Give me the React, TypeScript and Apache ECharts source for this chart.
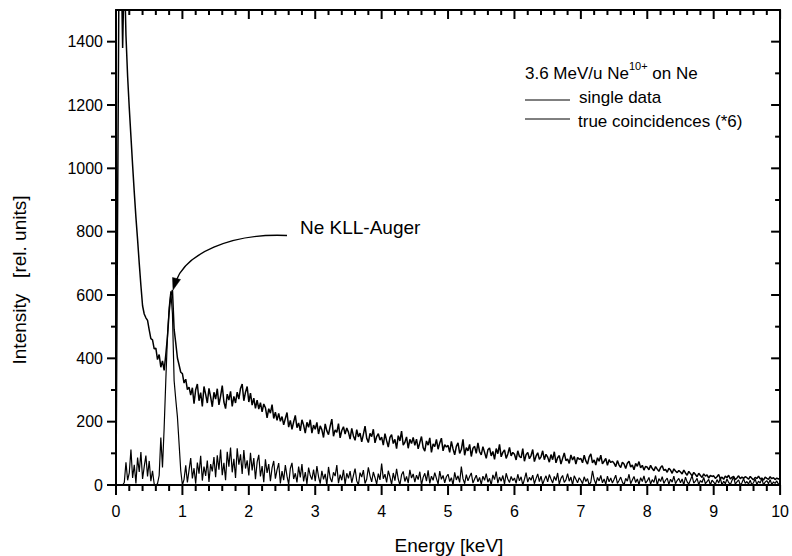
import React, { useEffect, useRef } from "react";
import * as echarts from "echarts";

// Channel spacing of the spectra (keV per point)
const ENERGY_STEP_KEV = 0.025;

// Single data, 0.000 ... 10.000 keV (rows of 0.5 keV)
const SINGLE_DATA = [
  0, 900, 1800, 1700, 1380, 1650, 1420, 1290, 1190, 1100, 1010, 925, 845, 775, 700, 630, 566, 540, 528, 520,
  490, 462, 458, 430, 432, 396, 412, 372, 392, 362, 412, 468, 545, 598, 616, 492, 448, 401, 379, 356,
  352, 322, 334, 301, 309, 284, 307, 257, 301, 319, 266, 292, 248, 311, 286, 259, 305, 278, 247, 293,
  271, 304, 253, 281, 314, 262, 241, 287, 268, 296, 248, 280, 259, 293, 271, 305, 319, 266, 293, 311,
  262, 290, 252, 274, 242, 268, 240, 260, 231, 256, 244, 212, 241, 227, 254, 210, 230, 204, 226, 201,
  216, 190, 210, 229, 183, 204, 176, 199, 220, 181, 196, 171, 206, 189, 164, 198, 182, 206, 164, 189,
  176, 198, 161, 187, 174, 150, 193, 171, 159, 186, 208, 154, 174, 166, 194, 149, 172, 184, 161, 180,
  167, 145, 179, 155, 141, 175, 152, 164, 136, 160, 186, 148, 134, 163, 153, 176, 133, 153, 162, 142,
  151, 126, 162, 140, 120, 150, 159, 131, 144, 115, 156, 139, 170, 126, 135, 152, 116, 144, 131, 150,
  125, 145, 114, 134, 153, 118, 107, 139, 126, 149, 103, 130, 121, 144, 113, 133, 148, 108, 127, 120,
  125, 103, 138, 114, 95, 122, 133, 100, 112, 144, 94, 118, 108, 128, 90, 116, 122, 100, 133, 105,
  95, 121, 103, 84, 111, 117, 92, 106, 81, 115, 99, 128, 89, 103, 111, 84, 98, 119, 92, 103,
  97, 79, 108, 90, 86, 115, 75, 96, 103, 83, 93, 112, 74, 91, 102, 81, 89, 108, 80, 97,
  88, 72, 96, 80, 105, 70, 86, 93, 66, 84, 101, 77, 82, 68, 95, 79, 90, 66, 87, 81,
  84, 70, 94, 76, 66, 89, 98, 70, 79, 63, 86, 75, 94, 67, 75, 84, 62, 80, 71, 75,
  69, 58, 77, 63, 55, 72, 66, 52, 69, 75, 57, 63, 48, 68, 59, 74, 54, 62, 47, 59,
  56, 48, 62, 52, 45, 58, 50, 43, 55, 61, 46, 49, 40, 53, 47, 37, 51, 44, 39, 46,
  41, 35, 47, 38, 31, 43, 36, 29, 40, 33, 26, 37, 30, 24, 35, 28, 32, 22, 30, 27,
  29, 21, 26, 33, 20, 25, 18, 28, 23, 31, 19, 24, 27, 17, 22, 29, 20, 25, 21, 26,
  23, 18, 27, 21, 16, 24, 20, 28, 19, 22, 15, 25, 21, 18, 26, 20, 23, 17, 22, 19,
  21,
];

// True coincidences (*6), 0.000 ... 10.000 keV (rows of 0.5 keV)
const TRUE_COINCIDENCES = [
  0, 0, 0, 0, 0, 8, 72, 15, 38, 112, 22, 64, 5, 87, 41, 104, 19, 58, 93, 27,
  76, 12, 45, 3, 0, 4, 30, 150, 55, 180, 330, 470, 560, 612, 540, 330, 270, 215, 130, 45,
  0, 18, 62, 8, 47, 85, 21, 53, 4, 71, 36, 92, 14, 58, 29, 77, 10, 66, 43, 88,
  25, 94, 48, 112, 31, 70, 15, 105, 58, 118, 40, 83, 22, 116, 64, 97, 35, 110, 52, 78,
  30, 102, 46, 85, 18, 72, 95, 27, 60, 9, 81, 38, 66, 12, 54, 76, 20, 48, 69, 5,
  44, 15, 63, 28, 2, 52, 70, 19, 37, 8, 58, 24, 66, 11, 41, 3, 55, 30, 17, 49,
  12, 60, 26, 4, 45, 18, 35, 0, 57, 22, 9, 40, 28, 63, 6, 33, 15, 48, 2, 37,
  21, 44, 7, 30, 52, 13, 0, 39, 25, 47, 5, 18, 56, 29, 10, 41, 23, 3, 36, 16,
  68, 20, 34, 8, 45, 26, 2, 38, 14, 51, 19, 0, 32, 43, 11, 27, 6, 48, 22, 35,
  9, 31, 17, 42, 0, 24, 37, 12, 46, 5, 28, 15, 39, 21, 3, 44, 18, 30, 7, 26,
  34, 11, 23, 0, 40, 16, 29, 8, 58, 20, 4, 33, 13, 27, 38, 6, 19, 31, 10, 24,
  2, 28, 15, 36, 9, 21, 0, 32, 17, 42, 6, 25, 12, 30, 3, 37, 19, 8, 27, 14,
  22, 5, 34, 13, 26, 0, 18, 39, 9, 24, 15, 31, 4, 20, 35, 11, 28, 2, 17, 29,
  10, 33, 19, 6, 27, 14, 38, 3, 21, 30, 8, 16, 36, 12, 25, 0, 29, 18, 7, 23,
  15, 4, 26, 11, 20, 0, 9, 45, 17, 3, 24, 13, 30, 7, 19, 2, 28, 10, 22, 6,
  18, 31, 5, 14, 25, 9, 0, 21, 12, 34, 4, 16, 27, 8, 19, 1, 23, 11, 29, 6,
  13, 24, 3, 17, 8, 30, 0, 20, 11, 26, 5, 15, 22, 2, 18, 9, 28, 4, 14, 21,
  7, 19, 0, 25, 10, 3, 16, 29, 6, 12, 21, 1, 14, 8, 24, 4, 11, 18, 0, 15,
  9, 2, 17, 6, 22, 0, 12, 4, 19, 8, 1, 14, 26, 3, 10, 16, 0, 7, 20, 5,
  11, 3, 15, 0, 8, 18, 2, 12, 6, 21, 0, 9, 14, 4, 17, 1, 10, 5, 13, 2,
  6,
];

const X_MIN = 0;
const X_MAX = 10;
const X_INTERVAL = 1;
const X_MAJOR_TICKS = [0, 1, 2, 3, 4, 5, 6, 7, 8, 9, 10];
const X_MINOR_SPLIT = 5;
const Y_MIN = 0;
const Y_MAX = 1500;
const Y_MAJOR_TICKS = [0, 200, 400, 600, 800, 1000, 1200, 1400];
const Y_MINOR_TICKS = [100, 300, 500, 700, 900, 1100, 1300];

const X_TITLE = "Energy [keV]";
const Y_TITLE = "Intensity   [rel. units]";
const LEGEND_TITLE_MAIN = "3.6 MeV/u Ne";
const LEGEND_TITLE_SUP = "10+";
const LEGEND_TITLE_END = " on Ne";
const SERIES_NAMES = ["single data", "true coincidences (*6)"];
const ANNOTATION = "Ne KLL-Auger";

const INK = "#000";
const FONT = "'Liberation Sans', Arial, Helvetica, sans-serif";
const GRID = { left: 116, right: 11, top: 10, bottom: 71 };
const W = 792;
const H = 556;

export default function App() {
  const ref = useRef<HTMLDivElement>(null);

  useEffect(() => {
    if (!ref.current) return;
    const chart = echarts.init(ref.current, undefined, { renderer: "svg" });

    const energyAt = (i: number) => Math.round(i * ENERGY_STEP_KEV * 1000) / 1000;
    const single = SINGLE_DATA.map((v, i) => [energyAt(i), v]);
    const coinc = TRUE_COINCIDENCES.map((v, i) => [energyAt(i), v]);

    const axisLine = { show: true, onZero: false, lineStyle: { color: INK, width: 2 } };
    const xBase = {
      type: "value",
      min: X_MIN,
      max: X_MAX,
      interval: X_INTERVAL,
      splitLine: { show: false },
      axisTick: { show: false },
      minorTick: { show: false },
      axisLine,
    };
    const yBase = {
      type: "value",
      min: Y_MIN,
      max: Y_MAX,
      interval: 200,
      splitLine: { show: false },
      axisTick: { show: false },
      minorTick: { show: false },
      axisLine,
    };

    chart.setOption({
      animation: false,
      backgroundColor: "#fff",
      grid: { ...GRID, containLabel: false },
      xAxis: [
        {
          ...xBase,
          position: "bottom",
          axisLabel: {
            color: INK,
            fontSize: 16,
            fontFamily: FONT,
            margin: 18,
            formatter: (v: number) => String(v),
          },
        },
        { ...xBase, position: "top", axisLabel: { show: false } },
      ],
      yAxis: [
        {
          ...yBase,
          position: "left",
          axisLabel: {
            color: INK,
            fontSize: 16,
            fontFamily: FONT,
            margin: 13,
            customValues: Y_MAJOR_TICKS,
            formatter: (v: number) => String(v),
          },
        },
        { ...yBase, position: "right", axisLabel: { show: false } },
      ],
      series: [
        {
          type: "line",
          name: SERIES_NAMES[0],
          data: single,
          xAxisIndex: 0,
          yAxisIndex: 0,
          showSymbol: false,
          symbol: "none",
          clip: true,
          silent: true,
          lineStyle: { color: INK, width: 1.5 },
          z: 3,
        },
        {
          type: "line",
          name: SERIES_NAMES[1],
          data: coinc,
          xAxisIndex: 0,
          yAxisIndex: 0,
          showSymbol: false,
          symbol: "none",
          clip: true,
          silent: true,
          lineStyle: { color: INK, width: 1.2 },
          z: 3,
        },
      ],
    });

    // Tick marks on all four sides, placed through the chart's coordinate system
    const toPx = (x: number, y: number): [number, number] => {
      let p: any = null;
      try {
        p = chart.convertToPixel({ gridIndex: 0 }, [x, y]);
      } catch (e) {
        p = null;
      }
      if (p && isFinite(p[0]) && isFinite(p[1])) return [Number(p[0]), Number(p[1])];
      const w = W - GRID.left - GRID.right;
      const h = H - GRID.top - GRID.bottom;
      return [
        GRID.left + ((x - X_MIN) / (X_MAX - X_MIN)) * w,
        H - GRID.bottom - ((y - Y_MIN) / (Y_MAX - Y_MIN)) * h,
      ];
    };
    const [xL, yB] = toPx(X_MIN, Y_MIN);
    const [xR, yT] = toPx(X_MAX, Y_MAX);
    const xMinor: number[] = [];
    for (let i = 0; i < X_MAJOR_TICKS.length - 1; i++) {
      const a = X_MAJOR_TICKS[i];
      const b = X_MAJOR_TICKS[i + 1];
      for (let k = 1; k < X_MINOR_SPLIT; k++) xMinor.push(a + ((b - a) * k) / X_MINOR_SPLIT);
    }
    const TW = 2;
    const vTick = (x: number, y0: number, len: number) => ({
      type: "rect",
      silent: true,
      shape: { x: x - TW / 2, y: len >= 0 ? y0 : y0 + len, width: TW, height: Math.abs(len) },
      style: { fill: INK },
    });
    const hTick = (y: number, x0: number, len: number) => ({
      type: "rect",
      silent: true,
      shape: { x: len >= 0 ? x0 : x0 + len, y: y - TW / 2, width: Math.abs(len), height: TW },
      style: { fill: INK },
    });
    const ticks: any[] = [];
    X_MAJOR_TICKS.forEach((v) => {
      const x = toPx(v, Y_MIN)[0];
      ticks.push(vTick(x, yB, 10));
      ticks.push(vTick(x, yT, 9));
    });
    xMinor.forEach((v) => {
      const x = toPx(v, Y_MIN)[0];
      ticks.push(vTick(x, yB, 6));
      ticks.push(vTick(x, yT, 5));
    });
    Y_MAJOR_TICKS.forEach((v) => {
      const y = toPx(X_MIN, v)[1];
      ticks.push(hTick(y, xL, -9));
      ticks.push(hTick(y, xR, -9));
    });
    Y_MINOR_TICKS.forEach((v) => {
      const y = toPx(X_MIN, v)[1];
      ticks.push(hTick(y, xL, -5));
      ticks.push(hTick(y, xR, -5));
    });

    chart.setOption({
      graphic: {
        elements: [
          { type: "group", children: ticks },
          {
            type: "text",
            x: 525,
            y: 71,
            style: {
              text: `{a|${LEGEND_TITLE_MAIN}}{s|${LEGEND_TITLE_SUP}}{a|${LEGEND_TITLE_END}}`,
              verticalAlign: "middle",
              align: "left",
              fill: INK,
              rich: {
                a: { fontSize: 17, fontFamily: FONT, lineHeight: 22, verticalAlign: "bottom", fill: INK },
                s: { fontSize: 11, fontFamily: FONT, lineHeight: 11, verticalAlign: "top", fill: INK },
              },
            },
          },
          { type: "line", shape: { x1: 525, y1: 100, x2: 570, y2: 100 }, style: { stroke: INK, lineWidth: 1 } },
          {
            type: "text",
            x: 579,
            y: 97,
            style: { text: SERIES_NAMES[0], fontSize: 17, fontFamily: FONT, fill: INK, verticalAlign: "middle" },
          },
          { type: "line", shape: { x1: 525, y1: 119, x2: 570, y2: 119 }, style: { stroke: INK, lineWidth: 1 } },
          {
            type: "text",
            x: 578,
            y: 121,
            style: { text: SERIES_NAMES[1], fontSize: 17, fontFamily: FONT, fill: INK, verticalAlign: "middle" },
          },
          {
            type: "text",
            x: 300,
            y: 227,
            style: { text: ANNOTATION, fontSize: 19, fontFamily: FONT, fill: INK, verticalAlign: "middle" },
          },
          {
            type: "bezierCurve",
            shape: { x1: 287, y1: 235.5, cpx1: 230, cpy1: 233, cpx2: 186, cpy2: 254, x2: 176, y2: 281 },
            style: { stroke: INK, lineWidth: 1.4, fill: null },
          },
          {
            type: "polygon",
            shape: { points: [[173, 290], [180.5, 279.5], [172.5, 277.5]] },
            style: { fill: INK, stroke: INK, lineWidth: 0.5 },
          },
          {
            type: "text",
            x: 449,
            y: 545,
            style: { text: X_TITLE, fontSize: 19, fontFamily: FONT, fill: INK, align: "center", verticalAlign: "middle" },
          },
          {
            type: "text",
            x: 19,
            y: 280,
            rotation: Math.PI / 2,
            style: { text: Y_TITLE, fontSize: 19, fontFamily: FONT, fill: INK, align: "center", verticalAlign: "middle" },
          },
        ],
      },
    });

    return () => chart.dispose();
  }, []);

  return (
    <div
      ref={ref}
      style={{ position: "fixed", left: 0, top: 0, width: W, height: H, background: "#fff" }}
    />
  );
}
